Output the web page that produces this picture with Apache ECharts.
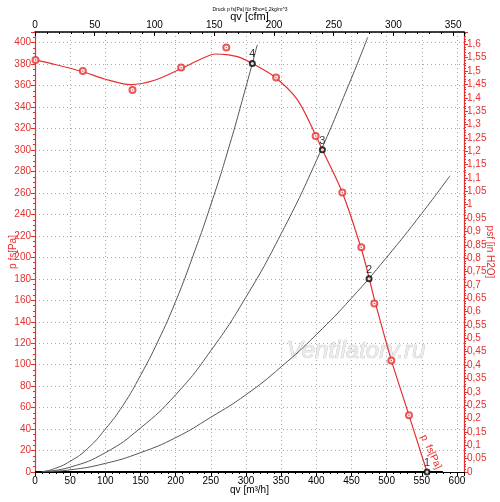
<!DOCTYPE html>
<html>
<head>
<meta charset="utf-8">
<title>Druck p fs[Pa]</title>
<script src="https://cdn.jsdelivr.net/npm/echarts@6/dist/echarts.min.js"></script>
<style>
    html, body { margin: 0; padding: 0; background: #fff; }
    #chart { width: 500px; height: 502px; }
</style>
</head>
<body>
<div id="chart"></div>
<script>
// fan curve (qv m3/h, p Pa)
var fanQ = [0, 30, 68, 100, 136, 170, 208, 240, 256, 272, 290, 309, 340, 373, 399, 408.6, 437, 464, 475, 482.5, 493.4, 506.7, 531.8, 557.4];
var fanP = [384, 379.5, 373, 366, 361, 365, 376, 386, 389.5, 389, 386.6, 380.7, 368.5, 347, 314, 300.2, 260.4, 208, 181, 161, 135, 104, 52.8, 0];

// measured points (the circled dots)
var measQ = [0.7, 68, 138.6, 207.8, 272, 342.8, 399, 437, 464, 482.5, 506.7, 531.8];
var measP = [384, 373.6, 356, 377, 395.6, 367.7, 313, 260.4, 209.5, 157, 104, 52.8];

// system curves
var sys1Q = [10, 25, 50, 75, 100, 125, 150, 175, 200, 225, 250, 275, 300, 316];
var sys1P = [0.4, 2.5, 10, 22, 40, 62, 90, 122, 159, 202, 249, 301, 359, 398];
var sys2Q = [10, 50, 100, 150, 200, 250, 300, 350, 400, 450, 473];
var sys2P = [0.2, 4.5, 18, 41, 72, 113, 163, 222, 290, 367, 405];
var sys3Q = [10, 50, 100, 150, 200, 250, 300, 350, 400, 450, 500, 550, 590];
var sys3P = [0.1, 2, 8, 18, 32, 51, 72, 98, 128, 162, 200, 241, 276];

// operating points
var opQ = [557.4, 475, 408.6, 309];
var opP = [0, 180, 300.2, 380.7];
var opName = ['1', '2', '3', '4'];

var RED = '#e53030';
var FONT = 'Arial, "Liberation Sans", sans-serif';
var qMax = 610;
var pMax = 410;
var CFM = 0.588578;     // 1 m3/h in cfm
var INH2O = 249.089;    // Pa per inch H2O

function pairs(xs, ys) {
    var out = [];
    for (var i = 0; i < xs.length; i++) out.push([xs[i], ys[i]]);
    return out;
}

var myChart = echarts.init(document.getElementById('chart'));

var gridLine = { show: true, lineStyle: { color: '#aaa', type: [1, 3], width: 1 } };

option = {
    animation: false,
    title: {
        text: 'Druck p fs[Pa] für Rho=1,2kg/m^3',
        left: 'center',
        top: 2,
        textStyle: { fontSize: 5, fontWeight: 'normal', color: '#000', fontFamily: FONT }
    },
    grid: { left: 35, right: 36, top: 32, bottom: 30, containLabel: false, outerBoundsMode: 'none' },
    xAxis: [
        {
            type: 'value', position: 'bottom',
            min: 0, max: qMax, interval: 50,
            name: 'qv [m³/h]', nameLocation: 'middle', nameGap: 13, nameMoveOverlap: false,
            nameTextStyle: { fontSize: 10, color: '#000', fontFamily: FONT, verticalAlign: 'top' },
            axisLine: { show: true, onZero: false, lineStyle: { color: '#000', width: 1 } },
            axisTick: { show: true, length: 4, lineStyle: { color: '#000' } },
            minorTick: { show: true, splitNumber: 5, length: 2, lineStyle: { color: '#000' } },
            axisLabel: { color: '#000', fontSize: 10, margin: 4, showMaxLabel: false, fontFamily: FONT },
            splitLine: gridLine
        },
        {
            type: 'value', position: 'top',
            min: 0, max: qMax * CFM, interval: 50,
            name: 'qv [cfm]', nameLocation: 'middle', nameGap: 10, nameMoveOverlap: false,
            nameTextStyle: { fontSize: 11, color: '#000', fontFamily: FONT, verticalAlign: 'bottom' },
            axisLine: { show: true, onZero: false, lineStyle: { color: '#000', width: 1.5 } },
            axisTick: { show: true, inside: true, length: 4, lineStyle: { color: '#000' } },
            minorTick: { show: true, splitNumber: 5, length: 2, lineStyle: { color: '#000' } },
            axisLabel: { color: '#000', fontSize: 10, margin: 2, showMaxLabel: false, fontFamily: FONT },
            splitLine: { show: false }
        }
    ],
    yAxis: [
        {
            type: 'value', position: 'left',
            min: 0, max: pMax, interval: 20,
            name: 'p fs[Pa]', nameLocation: 'middle', nameGap: 22, nameMoveOverlap: false,
            nameTextStyle: { fontSize: 10, color: RED, fontFamily: FONT, verticalAlign: 'middle' },
            axisLine: { show: true, onZero: false, lineStyle: { color: RED, width: 1.2 } },
            axisTick: { show: true, length: 4, lineStyle: { color: RED } },
            minorTick: { show: true, splitNumber: 4, length: 2, lineStyle: { color: RED } },
            axisLabel: { color: RED, fontSize: 10, margin: 4, showMaxLabel: false, fontFamily: FONT },
            splitLine: gridLine
        },
        {
            type: 'value', position: 'right',
            min: 0, max: pMax / INH2O, interval: 0.05,
            name: 'psf [in H2O]', nameLocation: 'middle', nameGap: 26, nameRotate: -90, nameMoveOverlap: false,
            nameTextStyle: { fontSize: 10, color: RED, fontFamily: FONT, verticalAlign: 'middle' },
            axisLine: { show: true, onZero: false, lineStyle: { color: RED, width: 1.2 } },
            axisTick: { show: true, length: 4, lineStyle: { color: RED } },
            minorTick: { show: true, splitNumber: 5, length: 2, lineStyle: { color: RED } },
            axisLabel: {
                color: RED, fontSize: 10, margin: 3, showMaxLabel: false, fontFamily: FONT,
                formatter: function (v) { return String(+v.toFixed(2)).replace('.', ','); }
            },
            splitLine: { show: false }
        }
    ],
    graphic: [
        {
            type: 'text', x: 356, y: 351, z: 1, silent: true,
            style: {
                text: 'Ventilatory.ru', font: 'italic 24px ' + FONT,
                fill: '#ececec', stroke: '#bdbdbd', lineWidth: 0.7,
                textAlign: 'center', textVerticalAlign: 'middle'
            }
        },
        {
            type: 'text', x: 431, y: 452, z: 100, rotation: -65 * Math.PI / 180,
            style: {
                text: 'p  fs[Pa]', font: '10px ' + FONT, fill: RED,
                textAlign: 'center', textVerticalAlign: 'middle'
            }
        }
    ],
    series: [
        {
            name: 'base', type: 'line', data: [[0, 0], [580, 0]],
            showSymbol: false, lineStyle: { color: '#000', width: 2 }, z: 3
        },
        {
            name: 'sys1', type: 'line', data: pairs(sys1Q, sys1P), smooth: true,
            showSymbol: false, lineStyle: { color: '#555', width: 1 }
        },
        {
            name: 'sys2', type: 'line', data: pairs(sys2Q, sys2P), smooth: true,
            showSymbol: false, lineStyle: { color: '#555', width: 1 }
        },
        {
            name: 'sys3', type: 'line', data: pairs(sys3Q, sys3P), smooth: true,
            showSymbol: false, lineStyle: { color: '#555', width: 1 }
        },
        {
            name: 'fan', type: 'line', data: pairs(fanQ, fanP), smooth: 0.3,
            showSymbol: false, lineStyle: { color: RED, width: 1.2 }, z: 4
        },
        {
            name: 'meas', type: 'scatter', data: pairs(measQ, measP),
            symbol: 'emptyCircle', symbolSize: 6,
            itemStyle: { color: RED, borderColor: RED, borderWidth: 0.8 }, z: 5
        },
        {
            name: 'measDot', type: 'scatter', data: pairs(measQ, measP),
            symbol: 'circle', symbolSize: 1.5,
            itemStyle: { color: RED }, z: 6
        },
        {
            name: 'op', type: 'scatter',
            data: opQ.map(function (q, i) { return { value: [q, opP[i]], name: opName[i] }; }),
            symbol: 'emptyCircle', symbolSize: 5,
            itemStyle: { color: '#000', borderColor: '#000', borderWidth: 0.8 },
            label: {
                show: true, position: 'top', distance: 0, formatter: '{b}',
                color: '#000', fontSize: 11, fontFamily: FONT
            },
            z: 7
        }
    ]
};

myChart.setOption(option);
window.onresize = function () { myChart.resize(); };
</script>
</body>
</html>
